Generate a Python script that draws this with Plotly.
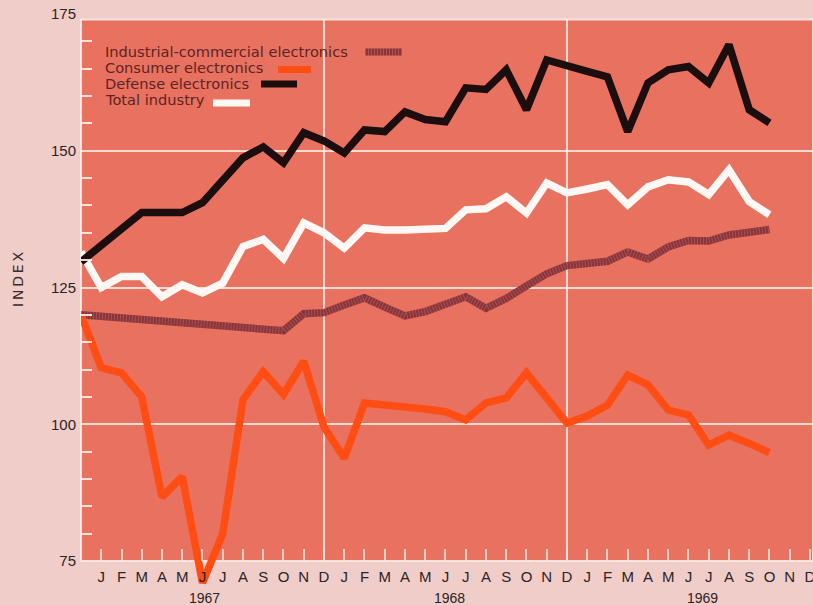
import plotly.graph_objects as go

# ---- data (month index: -1 = Dec 1966, 0 = Jan 1967 ... 33 = Oct 1969) ----
month_index = list(range(-1, 34))

industrial = [120.0, 119.7, 119.4, 119.1, 118.8, 118.5, 118.2, 118.0, 117.7, 117.4, 117.1,
              120.2, 120.4, 121.8, 123.1, 121.4, 119.8, 120.6, 121.8, 123.3, 121.2, 123.0,
              125.3, 127.5, 129.0, 129.4, 129.8, 131.5, 130.2, 132.4, 133.6, 133.5, 134.6,
              135.1, 135.6]
consumer = [120.0, 110.3, 109.4, 105.0, 86.7, 90.4, 71.0, 80.0, 104.5, 109.6, 105.5,
            111.5, 99.5, 93.8, 103.9, 103.6, 103.2, 102.8, 102.3, 100.8, 103.9, 104.8,
            109.4, 104.8, 100.2, 101.5, 103.5, 109.0, 107.2, 102.6, 101.7, 96.2, 98.0,
            96.5, 94.8]
defense = [129.7, 132.7, 135.7, 138.7, 138.7, 138.7, 140.5, 144.5, 148.7, 150.7, 147.8,
           153.3, 151.8, 149.6, 153.8, 153.5, 157.1, 155.7, 155.3, 161.5, 161.2, 164.8,
           157.5, 166.6, 165.4, 164.5, 163.5, 153.5, 162.4, 164.8, 165.4, 162.4, 169.4,
           157.5, 155.1]
total = [131.5, 125.0, 127.0, 127.0, 123.3, 125.5, 124.0, 125.8, 132.5, 133.8, 130.3,
         136.8, 135.0, 132.2, 135.9, 135.5, 135.5, 135.5, 135.8, 139.2, 139.4, 141.6,
         138.6, 144.1, 142.3, 143.0, 143.8, 140.1, 143.4, 144.7, 144.3, 142.0, 146.5,
         140.7, 138.3]

month_labels = ["J", "F", "M", "A", "M", "J", "J", "A", "S", "O", "N", "D"] * 3
month_ticks = list(range(36))
year_labels = ["1967", "1968", "1969"]
year_pos = [5.1, 17.2, 29.7]
y_tickvals = [75, 100, 125, 150, 175]
y_gridvals = [100, 125, 150]
y_minor = [v for v in range(80, 175, 5) if v % 25 != 0]
divider_months = [11, 23]

series_names = ["Industrial-commercial electronics", "Consumer electronics",
                "Defense electronics", "Total industry"]

# ---- style ----
PAGE = "#f1cdca"
PLOT = "#e8725f"
GRID = "rgba(255,236,230,0.85)"
C_IND = "#8a3339"
C_CON = "#ff4d14"
C_DEF = "#1c0d0e"
C_TOT = "#fff8f4"
TXT = "#2b2424"
LEG = "#5e2324"

Y0, Y1 = 67.87, 175.0
X0, X1 = -1, 35.15
W, H = 813, 605
ML, MR, MT, MB = 81, 0, 14, 5
PW, PH = W - ML - MR, H - MT - MB


def px2paper(px, py):
    return (px - ML) / PW, (H - MB - py) / PH


fig = go.Figure()

lw = 7.5
fig.add_trace(go.Scatter(x=month_index, y=industrial, mode="lines",
                         line=dict(color=C_IND, width=lw), hoverinfo="skip"))
fig.add_trace(go.Scatter(x=month_index, y=industrial, mode="lines",
                         line=dict(color="rgba(200,120,120,0.45)", width=lw, dash="1px,2px"),
                         hoverinfo="skip"))
fig.add_trace(go.Scatter(x=month_index, y=consumer, mode="lines",
                         line=dict(color=C_CON, width=lw), hoverinfo="skip"))
fig.add_trace(go.Scatter(x=month_index, y=total, mode="lines",
                         line=dict(color=C_TOT, width=lw), hoverinfo="skip"))
fig.add_trace(go.Scatter(x=month_index, y=defense, mode="lines",
                         line=dict(color=C_DEF, width=lw), hoverinfo="skip"))

# gridline-only overlay axis
fig.add_trace(go.Scatter(x=[None], y=[None], yaxis="y2", showlegend=False, hoverinfo="skip"))

shapes = []
# salmon plot area
shapes.append(dict(type="rect", xref="paper", yref="y", x0=0, x1=1, y0=75, y1=174,
                   fillcolor=PLOT, line=dict(color="rgba(255,235,230,0.9)", width=2),
                   layer="below"))
for m in divider_months:
    shapes.append(dict(type="line", xref="x", yref="y", x0=m, x1=m, y0=75, y1=174,
                       line=dict(color=GRID, width=2), layer="below"))

# legend swatches (positions measured in px)
sw = [(365, 402, 52, C_IND), (278, 311, 69.5, C_CON), (261, 297, 84, C_DEF), (213, 250, 103, C_TOT)]
for i, (a, b, yy, c) in enumerate(sw):
    xa, ya = px2paper(a, yy)
    xb, _ = px2paper(b, yy)
    shapes.append(dict(type="line", xref="paper", yref="paper", x0=xa, x1=xb, y0=ya, y1=ya,
                       line=dict(color=c, width=7)))
    if i == 0:
        shapes.append(dict(type="line", xref="paper", yref="paper", x0=xa, x1=xb, y0=ya, y1=ya,
                           line=dict(color="rgba(200,120,120,0.5)", width=7, dash="1px,2px")))

annotations = []
text_y = [51, 67.5, 83.5, 100]
for name, ty in zip(series_names, text_y):
    xp, yp = px2paper(104, ty)
    annotations.append(dict(text=name, xref="paper", yref="paper", x=xp, y=yp,
                            xanchor="left", yanchor="middle", showarrow=False, borderpad=0,
                            font=dict(family="DejaVu Sans", size=14.6, color=LEG)))
for lab, xpos in zip(year_labels, year_pos):
    annotations.append(dict(text=lab, xref="x", yref="paper", x=xpos, y=px2paper(0, 598)[1],
                            xanchor="center", yanchor="middle", showarrow=False,
                            font=dict(family="Liberation Sans", size=14, color=TXT)))
annotations.append(dict(text="I\u2009N\u2009D\u2009E\u2009X", xref="paper", yref="paper",
                        x=px2paper(18, 280)[0], y=px2paper(18, 280)[1], textangle=-90,
                        xanchor="center", yanchor="middle", showarrow=False,
                        font=dict(family="DejaVu Sans", size=14, color="#3a2a2a")))

fig.update_layout(
    width=W, height=H,
    margin=dict(l=ML, r=MR, t=MT, b=MB, autoexpand=False),
    paper_bgcolor=PAGE, plot_bgcolor="rgba(0,0,0,0)",
    showlegend=False,
    shapes=shapes, annotations=annotations,
    xaxis=dict(range=[X0, X1], anchor="free", position=(75 - Y0) / (Y1 - Y0),
               tickmode="array", tickvals=month_ticks, ticktext=month_labels,
               ticks="inside", ticklen=12, tickwidth=1.5, tickcolor="rgba(255,228,222,0.8)",
               showgrid=False, zeroline=False, showline=False, automargin=False,
               ticklabeloverflow="allow",
               tickfont=dict(family="Liberation Sans", size=15, color=TXT),
               ticklabelstandoff=5),
    yaxis=dict(range=[Y0, Y1], tickmode="array", tickvals=y_tickvals,
               ticktext=[str(v) for v in y_tickvals], ticks="", showgrid=False,
               zeroline=False, showline=False, automargin=False,
               tickfont=dict(family="Liberation Sans", size=15, color=TXT),
               ticklabelstandoff=4,
               minor=dict(tickmode="array", tickvals=y_minor, ticks="inside", ticklen=11,
                          tickwidth=2, tickcolor="rgba(255,240,236,0.9)", showgrid=False)),
    yaxis2=dict(range=[Y0, Y1], overlaying="y", tickmode="array", tickvals=y_gridvals,
                showticklabels=False, showgrid=True, gridcolor=GRID, gridwidth=2,
                zeroline=False, ticks="", layer="below traces", automargin=False),
)

fig.write_html(
    "out.html",
    config={"displayModeBar": False},
    post_script="document.body.style.margin='0';document.body.style.padding='0';"
                "document.body.style.overflow='hidden';"
                "document.documentElement.style.background='" + PAGE + "';",
)
